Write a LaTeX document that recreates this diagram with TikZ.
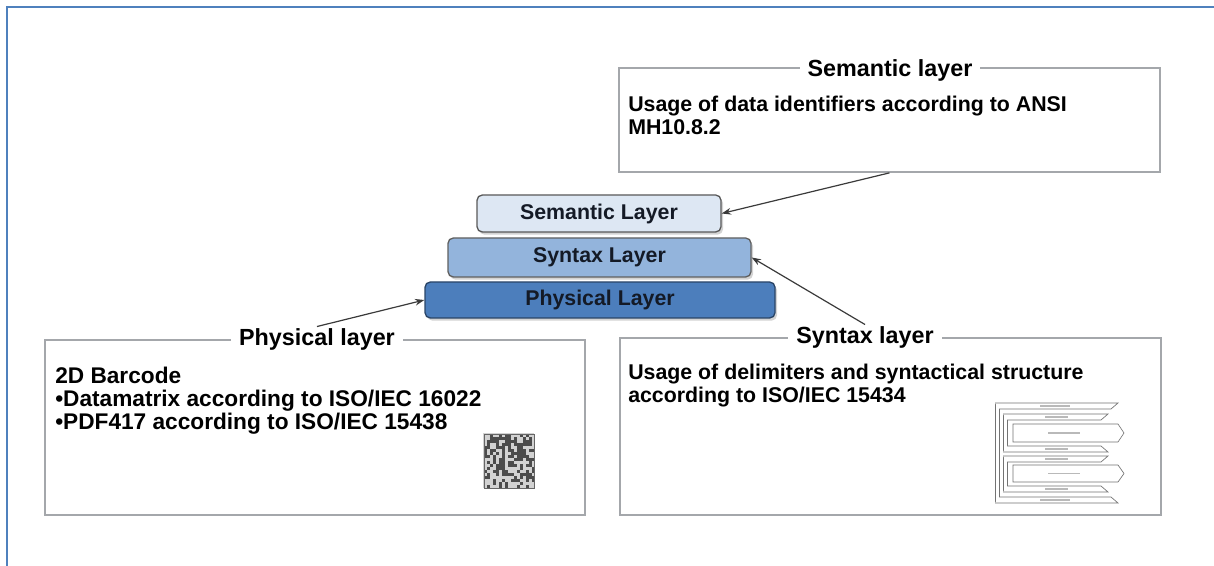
\documentclass[tikz,border=0pt]{standalone}
\usepackage{fontspec}
\setmainfont{Liberation Sans}
\usetikzlibrary{shadows,arrows.meta}
\definecolor{frameblue}{HTML}{4F81BD}
\definecolor{semfill}{HTML}{DDE7F3}
\definecolor{synfill}{HTML}{93B4DC}
\definecolor{phyfill}{HTML}{4C7EBC}
\definecolor{layertext}{HTML}{141A26}
\definecolor{boxgray}{HTML}{A4A7AB}
\definecolor{arrowgray}{HTML}{3A3A3A}
\tikzset{
  infobox/.style={draw=boxgray, line width=1.3pt, fill=white, rectangle,
    drop shadow={opacity=0.18, shadow xshift=1pt, shadow yshift=-1pt}},
  boxtitle/.style={fill=white, inner xsep=6pt, inner ysep=1pt,
    font=\fontsize{17.5}{19}\selectfont\bfseries},
  boxbody/.style={anchor=north west, align=left, inner sep=0pt,
    font=\fontsize{16}{17.25}\selectfont\bfseries},
  layerbox/.style={rectangle, rounded corners=4pt, line width=1pt,
    text=layertext, font=\fontsize{16}{18}\selectfont\bfseries,
    drop shadow={opacity=0.35, shadow xshift=1.5pt, shadow yshift=-2pt}},
  conn/.style={draw=arrowgray, line width=0.9pt, -{Stealth[length=7pt,width=5pt]}},
  band/.style={draw=black!55, line width=0.5pt, fill=white},
  rail/.style={draw=black!55, line width=0.5pt},
  blurtxt/.style={draw=gray!55, line width=1.2pt}
}
\begin{document}
\begin{tikzpicture}[x=0.75pt,y=-0.75pt]
\useasboundingbox (0,0) rectangle (1214,566);
% outer frame (top and left)
\draw[frameblue, line width=2.2pt] (7,566) -- (7,7) -- (1214,7);

% info boxes
\node[infobox, minimum width=405.75pt, minimum height=78pt] (semb) at (889.5,120) {};
\node[infobox, minimum width=405pt, minimum height=131.25pt] (phyb) at (315,427.5) {};
\node[infobox, minimum width=405.75pt, minimum height=132.75pt] (synb) at (890.5,426.5) {};

% titles
\node[boxtitle] (semt) at (890,70) {Semantic layer};
\node[boxtitle] (phyt) at (317,339) {Physical layer};
\node[boxtitle] (synt) at (865,337) {Syntax layer};

% body texts
\node[boxbody] (semtext) at (628,96) {Usage of data identifiers according to ANSI\\MH10.8.2};
\node[boxbody, font=\fontsize{17}{17.25}\selectfont\bfseries] (phytext) at (55,367) {2D Barcode\\\textbullet Datamatrix according to ISO/IEC 16022\\\textbullet PDF417 according to ISO/IEC 15438};
\node[boxbody] (syntext) at (628,364) {Usage of delimiters and syntactical structure\\according to ISO/IEC 15434};

% layer stack
\node[layerbox, draw=gray!70!black, fill=semfill, minimum width=183pt, minimum height=27.75pt] (seml) at (599,213.5) {Semantic Layer};
\node[layerbox, draw=gray!75!black, fill=synfill, minimum width=227.25pt, minimum height=29.25pt] (synl) at (599.5,257.5) {Syntax Layer};
\node[layerbox, draw=phyfill!55!black, fill=phyfill, minimum width=262.5pt, minimum height=27pt] (phyl) at (600,300) {Physical Layer};

% connectors
\draw[conn] (semb.south) -- (seml.east);
\draw[conn] (synt.north) -- (synl.east);
\draw[conn] (phyt.north) -- (phyl.west);

% barcode (data matrix)
\pgfmathsetseed{4217}
\fill[gray!35] (483,433) rectangle (534,488);
\foreach \i in {0,...,16}{
  \foreach \j in {0,...,17}{
    \pgfmathparse{rnd<0.5 ? 1 : 0}
    \ifnum\pgfmathresult=1
      \fill[black!70] (484+\i*3,434+\j*3) rectangle ++(3,3);
    \fi
  }
}
\draw[black!60, line width=0.6pt] (484,434) rectangle (534,488);

% nested structure sketch (ISO/IEC 15434 envelope)
\draw[rail] (995,403) -- (995,503);
\draw[rail] (999,409) -- (999,497);
% outer header / trailer bands
\draw[band] (995,403) -- (1118,403) -- (1111,409) -- (999,409);
\draw[band] (999,497) -- (1111,497) -- (1118,503) -- (995,503);
% group 1
\draw[rail] (1003,414) -- (1003,452);
\draw[rail] (1007,420) -- (1007,446);
\draw[band] (1003,414) -- (1108,414) -- (1101,420) -- (1007,420);
\draw[band] (1007,446) -- (1101,446) -- (1108,452) -- (1003,452);
\draw[band] (1013,424) -- (1118,424) -- (1124,433) -- (1118,442) -- (1013,442) -- cycle;
% group 2
\draw[rail] (1003,456) -- (1003,492);
\draw[rail] (1007,462) -- (1007,486);
\draw[band] (1003,456) -- (1108,456) -- (1101,462) -- (1007,462);
\draw[band] (1007,486) -- (1101,486) -- (1108,492) -- (1003,492);
\draw[band] (1013,465) -- (1118,465) -- (1124,473.5) -- (1118,482) -- (1013,482) -- cycle;
% faint text strokes
\foreach \yy/\xa/\xb in {406/1040/1070, 417/1045/1068, 433/1048/1080, 449/1045/1068,
                         459/1045/1068, 473.5/1048/1080, 489/1045/1068, 500/1040/1070}{
  \draw[blurtxt] (\xa,\yy) -- (\xb,\yy);
}
\end{tikzpicture}
\end{document}
